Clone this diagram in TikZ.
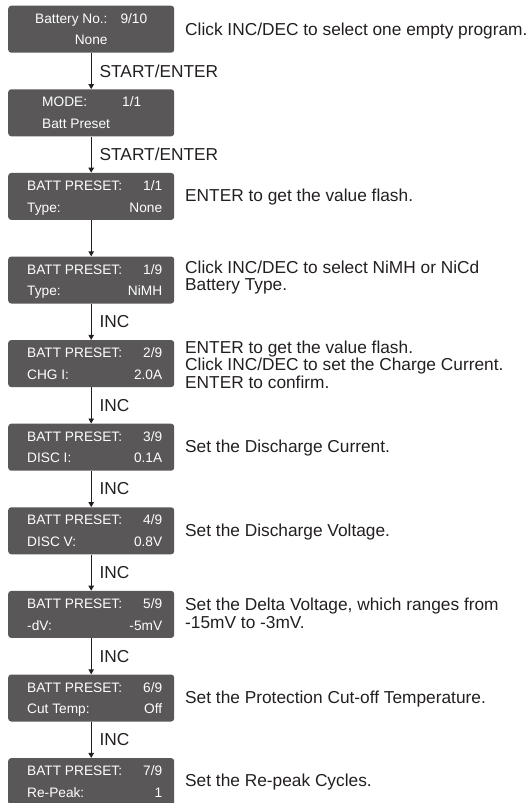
\documentclass[tikz,border=0pt]{standalone}
\usepackage{fontspec}
\setmainfont{Liberation Sans}
\usetikzlibrary{arrows.meta}
\definecolor{boxgray}{HTML}{595757}
\definecolor{ink}{HTML}{231F20}
\begin{document}
\begin{tikzpicture}[x=1pt,y=-1pt,
  lcd/.style={fill=boxgray, rounded corners=3pt, minimum width=166pt, minimum height=47pt, inner sep=0pt, anchor=north west},
  lt/.style={text=white, font=\fontsize{13.7}{15}\selectfont, inner sep=0pt, anchor=base west},
  rtv/.style={text=white, font=\fontsize{13.7}{15}\selectfont, inner sep=0pt, anchor=base east},
  desc/.style={text=ink, font=\fontsize{17.3}{18}\selectfont, inner sep=0pt, anchor=base west},
  lab/.style={text=ink, font=\fontsize{17.3}{18}\selectfont, inner sep=0pt, anchor=west, xshift=8pt},
  arr/.style={draw=ink, line width=0.9pt, -{Triangle[length=5pt,width=5.5pt]}}]
\useasboundingbox (0,0) rectangle (529,803);

% boxes
\node[lcd] (b1) at (8,5.5) {};
\node[lcd] (b2) at (8,89.1) {};
\node[lcd] (b3) at (8,172.7) {};
\node[lcd] (b4) at (8,256.3) {};
\node[lcd] (b5) at (8,339.9) {};
\node[lcd] (b6) at (8,423.5) {};
\node[lcd] (b7) at (8,507.1) {};
\node[lcd] (b8) at (8,590.7) {};
\node[lcd] (b9) at (8,674.3) {};
\node[lcd] (b10) at (8,757.9) {};

% box 1
\node[lt] (b1a) at ([xshift=27pt,yshift=-17.8pt]b1.north west) {Battery No.:};
\node[rtv] (b1b) at ([xshift=-27pt,yshift=-17.8pt]b1.north east) {9/10};
\node[text=white, font=\fontsize{13.7}{15}\selectfont, inner sep=0pt, anchor=base] (b1c) at ([yshift=-39.3pt]b1.north) {None};
% box 2
\node[lt] (b2a) at ([xshift=34pt,yshift=-17.8pt]b2.north west) {MODE:};
\node[rtv] (b2b) at ([xshift=-33pt,yshift=-17.8pt]b2.north east) {1/1};
\node[lt] (b2c) at ([xshift=34pt,yshift=-39.3pt]b2.north west) {Batt Preset};
% boxes 3..10
\foreach \b/\n/\k/\v in {b3/1\slash 1/Type:/None, b4/1\slash 9/Type:/NiMH, b5/2\slash 9/CHG I:/2.0A,
  b6/3\slash 9/DISC I:/0.1A, b7/4\slash 9/DISC V:/0.8V, b8/5\slash 9/-dV:/-5mV,
  b9/6\slash 9/Cut Temp:/Off, b10/7\slash 9/Re-Peak:/1}{
  \node[lt] (\b a) at ([xshift=19pt,yshift=-17.8pt]\b.north west) {BATT PRESET:};
  \node[rtv] (\b b) at ([xshift=-12pt,yshift=-17.8pt]\b.north east) {\n};
  \node[lt] (\b c) at ([xshift=19pt,yshift=-39.3pt]\b.north west) {\k};
  \node[rtv] (\b d) at ([xshift=-12pt,yshift=-39.3pt]\b.north east) {\v};
}

% arrows
\draw[arr] (b1.south) -- node[lab] (l1) {START/ENTER} (b2.north);
\draw[arr] (b2.south) -- node[lab] (l2) {START/ENTER} (b3.north);
\draw[arr] (b3.south) -- (b4.north);
\draw[arr] (b4.south) -- node[lab] (l4) {INC} (b5.north);
\draw[arr] (b5.south) -- node[lab] (l5) {INC} (b6.north);
\draw[arr] (b6.south) -- node[lab] (l6) {INC} (b7.north);
\draw[arr] (b7.south) -- node[lab] (l7) {INC} (b8.north);
\draw[arr] (b8.south) -- node[lab] (l8) {INC} (b9.north);
\draw[arr] (b9.south) -- node[lab] (l9) {INC} (b10.north);

% descriptions
\node[desc] (d1) at (185,35) {Click INC/DEC to select one empty program.};
\node[desc] (d2) at (185,201) {ENTER to get the value flash.};
\node[desc] (d3a) at (185,273) {Click INC/DEC to select NiMH or NiCd};
\node[desc] (d3b) at (185,290.5) {Battery Type.};
\node[desc] (d4a) at (185,353) {ENTER to get the value flash.};
\node[desc] (d4b) at (185,370.5) {Click INC/DEC to set the Charge Current.};
\node[desc] (d4c) at (185,388) {ENTER to confirm.};
\node[desc] (d5) at (185,452) {Set the Discharge Current.};
\node[desc] (d6) at (185,536) {Set the Discharge Voltage.};
\node[desc] (d7a) at (185,610) {Set the Delta Voltage, which ranges from};
\node[desc] (d7b) at (185,628) {-15mV to -3mV.};
\node[desc] (d8) at (185,703) {Set the Protection Cut-off Temperature.};
\node[desc] (d9) at (185,786) {Set the Re-peak Cycles.};
\end{tikzpicture}
\end{document}
